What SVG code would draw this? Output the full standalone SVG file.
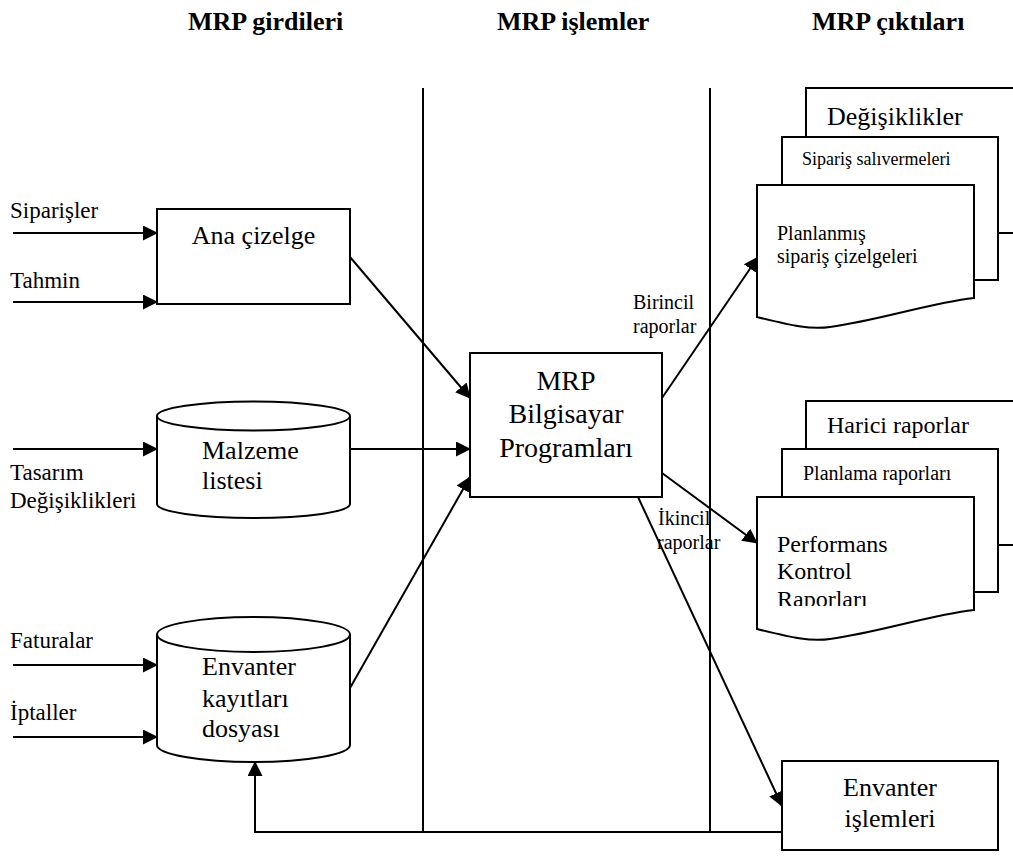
<svg xmlns="http://www.w3.org/2000/svg" width="1013" height="857" viewBox="0 0 1013 857" font-family="'Liberation Serif', 'Times New Roman', Times, 'DejaVu Serif', serif">
  <style>
    text { font-family: "Liberation Serif", "Times New Roman", Times, "DejaVu Serif", serif; fill: #000; }
    .hdr { font-size: 26px; font-weight: bold; }
    .lbl { font-size: 23px; }
    .node { font-size: 26px; }
    .big { font-size: 28px; }
    .shape { fill: #fff; stroke: #000; stroke-width: 2; }
    .div { stroke: #000; stroke-width: 2; fill: none; }
    .conn { stroke: #000; stroke-width: 2; fill: none; }
  </style>
  <defs>
    <marker id="arrow" markerUnits="userSpaceOnUse" viewBox="0 0 15 15" markerWidth="15" markerHeight="15" refX="14" refY="7.5" orient="auto">
      <path d="M0,0 L15,7.5 L0,15 Z" fill="#000"/>
    </marker>
    <clipPath id="docClip">
      <rect x="757" y="497" width="217" height="109"/>
    </clipPath>
  </defs>
  <rect width="1013" height="857" fill="#fff"/>

  <!-- column headings -->
  <g id="headers">
    <text class="hdr" x="188" y="30">MRP girdileri</text>
    <text class="hdr" x="497" y="30">MRP işlemler</text>
    <text class="hdr" x="812" y="30">MRP çıktıları</text>
  </g>

  <!-- column dividers -->
  <g id="dividers">
    <line class="div" x1="423" y1="88" x2="423" y2="832"/>
    <line class="div" x1="710" y1="88" x2="710" y2="832"/>
  </g>

  <!-- connectors -->
  <g id="connectors">
    <line class="conn" x1="13" y1="233" x2="157" y2="233" marker-end="url(#arrow)"/>
    <line class="conn" x1="13" y1="302" x2="157" y2="302" marker-end="url(#arrow)"/>
    <line class="conn" x1="13" y1="449" x2="157" y2="449" marker-end="url(#arrow)"/>
    <line class="conn" x1="13" y1="665" x2="157" y2="665" marker-end="url(#arrow)"/>
    <line class="conn" x1="13" y1="737" x2="157" y2="737" marker-end="url(#arrow)"/>
    <line class="conn" x1="350" y1="257" x2="470" y2="398" marker-end="url(#arrow)"/>
    <line class="conn" x1="350" y1="449" x2="470" y2="449" marker-end="url(#arrow)"/>
    <line class="conn" x1="350" y1="688" x2="470" y2="477" marker-end="url(#arrow)"/>
    <line class="conn" x1="662" y1="398" x2="758" y2="257" marker-end="url(#arrow)"/>
    <line class="conn" x1="662" y1="473" x2="757" y2="543" marker-end="url(#arrow)"/>
    <line class="conn" x1="638" y1="497" x2="782" y2="806" marker-end="url(#arrow)"/>
    <path class="conn" d="M782,832 H255 V762" marker-end="url(#arrow)"/>
  </g>

  <!-- input labels -->
  <g id="inputs">
    <text class="lbl" x="10" y="218">Siparişler</text>
    <text class="lbl" x="10" y="288">Tahmin</text>
    <text class="lbl" x="10" y="480">Tasarım</text>
    <text class="lbl" x="10" y="508">Değişiklikleri</text>
    <text class="lbl" x="10" y="648">Faturalar</text>
    <text class="lbl" x="10" y="720">İptaller</text>
  </g>

  <g id="ana-cizelge">
    <rect class="shape" x="157" y="209" width="193" height="95"/>
    <text class="node" x="253.5" y="244" text-anchor="middle">Ana çizelge</text>
  </g>

  <g id="malzeme-listesi">
    <path class="shape" d="M157,416 V504 A96.5,14 0 0 0 350,504 V416"/>
    <ellipse class="shape" cx="253.5" cy="416" rx="96.5" ry="14.5"/>
    <text class="node" x="202" y="459">Malzeme</text>
    <text class="node" x="202" y="489">listesi</text>
  </g>

  <g id="envanter-kayitlari">
    <path class="shape" d="M157,634.5 V745 A96.5,17 0 0 0 350,745 V634.5"/>
    <ellipse class="shape" cx="253.5" cy="634.5" rx="96.5" ry="17.5"/>
    <text class="node" x="202" y="675">Envanter</text>
    <text class="node" x="202" y="707">kayıtları</text>
    <text class="node" x="202" y="737">dosyası</text>
  </g>

  <g id="mrp-programlari">
    <rect class="shape" x="470" y="353" width="192" height="144"/>
    <text class="big" x="566" y="390" text-anchor="middle">MRP</text>
    <text class="big" x="566" y="423" text-anchor="middle">Bilgisayar</text>
    <text class="big" x="566" y="457" text-anchor="middle">Programları</text>
  </g>

  <g id="envanter-islemleri">
    <rect class="shape" x="782" y="761" width="216" height="89"/>
    <text class="node" x="890" y="796" text-anchor="middle">Envanter</text>
    <text class="node" x="890" y="827" text-anchor="middle">işlemleri</text>
  </g>

  <!-- connector labels -->
  <g id="report-labels">
    <text x="633" y="309" font-size="20">Birincil</text>
    <text x="633" y="333" font-size="20">raporlar</text>
    <text x="658" y="525" font-size="20">İkincil</text>
    <text x="657" y="549" font-size="20">raporlar</text>
  </g>

  <!-- primary report documents -->
  <g id="birincil-raporlar">
    <rect class="shape" x="806" y="88" width="240" height="145"/>
    <text x="827" y="125" font-size="26">Değişiklikler</text>
    <rect class="shape" x="782" y="137" width="216" height="143"/>
    <text x="802" y="165" font-size="18">Sipariş salıvermeleri</text>
    <path class="shape" d="M757,185 H974 V298 C930,303 880,320 830,327 C810,330 790,325 757,317 Z"/>
    <text x="777" y="240" font-size="20">Planlanmış</text>
    <text x="777" y="263" font-size="20">sipariş çizelgeleri</text>
  </g>

  <!-- secondary report documents -->
  <g id="ikincil-raporlar">
    <rect class="shape" x="806" y="401" width="240" height="144"/>
    <text x="827" y="433" font-size="24">Harici raporlar</text>
    <rect class="shape" x="782" y="449" width="216" height="143"/>
    <text x="803" y="480" font-size="20">Planlama raporları</text>
    <path class="shape" d="M757,497 H974 V610 C930,615 880,632 830,639 C810,642 790,637 757,629 Z"/>
    <g clip-path="url(#docClip)">
      <text x="777" y="552" font-size="24">Performans</text>
      <text x="777" y="579" font-size="24">Kontrol</text>
      <text x="777" y="607" font-size="24">Raporları</text>
    </g>
  </g>
</svg>
